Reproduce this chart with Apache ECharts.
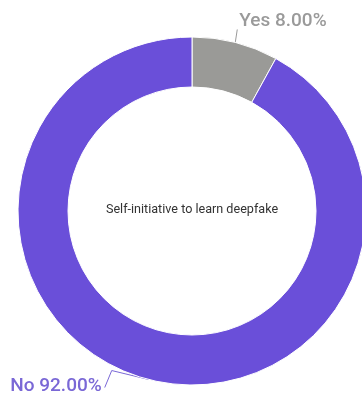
<!DOCTYPE html>
<html>
<head>
<meta charset="utf-8">
<script src="https://cdn.jsdelivr.net/npm/echarts@6/dist/echarts.min.js"></script>
<style>
  html, body { margin: 0; padding: 0; background: #fff; }
  #chart { width: 362px; height: 398px; }
</style>
</head>
<body>
<div id="chart"></div>
<script>
// Answers and their counts
const categories = ['Yes', 'No'];
const values = [8, 92];
const sliceColors = ['#9a9a97', '#6a4fd9'];
const labelColors = ['#9a9a9a', '#7a68d6'];
const centerTitle = 'Self-initiative to learn deepfake';

const pieCenter = [192, 211];

const chart = echarts.init(document.getElementById('chart'), null, { renderer: 'canvas' });

// Place each outside label next to the start of its leader line
function placeLabel(params) {
  const pts = params.labelLinePoints;
  if (!pts) return {};
  const s = pts[0];
  if (params.dataIndex === 0) {
    return {
      x: s[0] + 4, y: s[1] - 21, align: 'left', verticalAlign: 'middle',
      labelLinePoints: [s, [s[0] + 2, s[1] - 13], [s[0] + 2, s[1] - 13]]
    };
  }
  return {
    x: s[0] - 47, y: s[1] + 7, align: 'right', verticalAlign: 'middle',
    labelLinePoints: [s, [s[0] - 37, s[1] - 9], [s[0] - 44, s[1] + 8]]
  };
}

chart.setOption({
  animation: false,
  graphic: [{
    type: 'text',
    x: pieCenter[0],
    y: pieCenter[1] - 1,
    style: {
      text: centerTitle,
      fill: '#333',
      font: '12.6px Roboto, sans-serif',
      align: 'center',
      verticalAlign: 'middle'
    }
  }],
  series: [{
    type: 'pie',
    center: pieCenter,
    radius: [124, 174],
    startAngle: 90,
    clockwise: true,
    avoidLabelOverlap: false,
    itemStyle: { borderColor: '#fff', borderWidth: 1 },
    label: {
      show: true,
      position: 'outside',
      fontFamily: 'Roboto, sans-serif',
      fontSize: 19,
      fontWeight: 500,
      formatter: p => p.name + ' ' + p.percent.toFixed(2) + '%'
    },
    labelLine: { show: true, length: 10, length2: 6, lineStyle: { width: 1 } },
    labelLayout: placeLabel,
    data: categories.map((c, i) => ({
      name: c,
      value: values[i],
      itemStyle: { color: sliceColors[i] },
      label: { color: labelColors[i] },
      labelLine: { lineStyle: { color: labelColors[i] } }
    }))
  }]
});
</script>
</body>
</html>
